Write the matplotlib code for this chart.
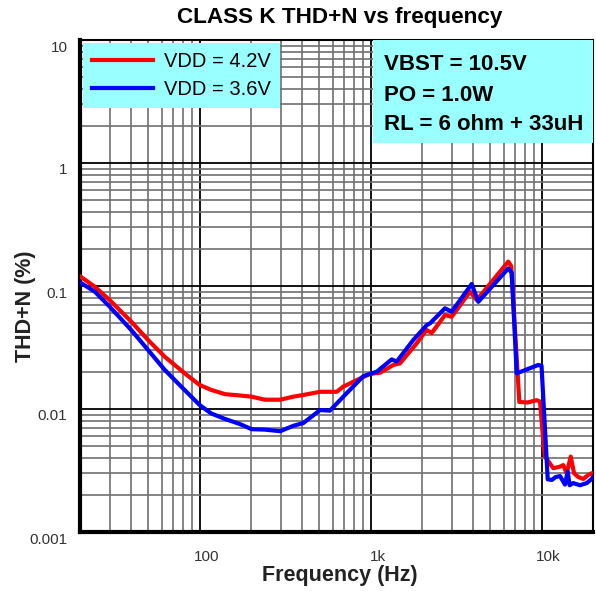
import matplotlib
matplotlib.use('Agg')
import matplotlib.pyplot as plt
import matplotlib.transforms as mtransforms
from matplotlib.patches import Rectangle

plt.rcParams['font.family'] = ['Liberation Sans', 'DejaVu Sans']

# VDD = 4.2V (red)
freq_42 = [20, 24.4, 29.8, 39.9, 50, 62.6, 71.6, 81.9, 100, 117, 141, 170, 202, 241,
           296, 354, 405, 507, 634, 693, 868, 993, 1136, 1359, 1487, 1862, 2129,
           2280, 2726, 2984, 3818, 4178, 6393, 6650, 7415, 8300, 9375, 9800, 10300,
           10480, 11720, 12830, 13400, 14030, 14820, 15500, 16400, 17550, 18700,
           19650, 20000]
thd_42 = [0.12, 0.0987, 0.0769, 0.0513, 0.0364, 0.0266, 0.0228, 0.0195, 0.0157,
          0.0143, 0.0132, 0.0129, 0.0126, 0.0119, 0.0119, 0.0126, 0.0130, 0.0138,
          0.0138, 0.0152, 0.0177, 0.0193, 0.0197, 0.0228, 0.0235, 0.0342, 0.0439,
          0.0415, 0.058, 0.0562, 0.090, 0.0769, 0.158, 0.145, 0.0114, 0.0113,
          0.0118, 0.0115, 0.0050, 0.0041, 0.0033, 0.0034, 0.0035, 0.0030, 0.0041,
          0.0030, 0.0028, 0.0027, 0.0029, 0.0030, 0.0030]

# VDD = 3.6V (blue)
freq_36 = [20, 24.4, 29.8, 39.9, 50, 62.6, 78.2, 100, 117, 141, 172, 202, 240, 296,
           354, 405, 507, 579, 693, 908, 1087, 1330, 1423, 1779, 2129, 2228, 2726,
           2984, 3904, 4269, 6393, 6694, 7160, 9575, 10000, 10870, 11500, 12100,
           12830, 13710, 14220, 14600, 15300, 16800, 18400, 19650, 20000]
thd_36 = [0.107, 0.090, 0.068, 0.0438, 0.0302, 0.0208, 0.0152, 0.0108, 0.0092,
          0.0083, 0.00755, 0.00685, 0.0068, 0.0066, 0.0073, 0.0077, 0.0098, 0.0097,
          0.0126, 0.0185, 0.0201, 0.0253, 0.0243, 0.0364, 0.048, 0.0497, 0.0659,
          0.0618, 0.1038, 0.0744, 0.139, 0.128, 0.0195, 0.0228, 0.0225, 0.00268,
          0.00265, 0.0028, 0.00285, 0.00243, 0.0031, 0.0024, 0.0025, 0.0024,
          0.0025, 0.0027, 0.0028]

xticks = [100, 1000, 10000]
xtick_labels = ['100', '1k', '10k']
yticks = [0.001, 0.01, 0.1, 1, 10]
ytick_labels = ['0.001', '0.01', '0.1', '1', '10']
conditions = ['VBST = 10.5V', 'PO = 1.0W', 'RL = 6 ohm + 33uH']

W, H = 596, 591
fig = plt.figure(figsize=(W / 100, H / 100), dpi=100)
ax = fig.add_axes([80 / W, 1 - 532 / H, 513 / W, 492 / H])

ax.plot(freq_42, thd_42, color='#ff0000', lw=3, label='VDD = 4.2V', zorder=4)
ax.plot(freq_36, thd_36, color='#0000ff', lw=3, label='VDD = 3.6V', zorder=4)

ax.set_xscale('log')
ax.set_yscale('log')
ax.set_xlim(20, 20000)
ax.set_ylim(0.001, 10)

ax.grid(which='major', color='#000000', lw=1.3, zorder=1)
ax.grid(which='minor', color='#707070', lw=1.2, zorder=1)
ax.set_axisbelow(True)

ax.set_xticks(xticks)
ax.set_xticklabels(xtick_labels)
ax.set_yticks(yticks)
ax.set_yticklabels(ytick_labels)
ax.tick_params(which='both', length=0)
ax.tick_params(axis='x', pad=13, labelsize=11, labelcolor='#333333')
ax.tick_params(axis='y', pad=9, labelsize=11, labelcolor='#333333')

# labels sit a bit off the grid lines in the original
for lab in ax.get_xticklabels():
    lab.set_transform(lab.get_transform() +
                      mtransforms.ScaledTranslation(7 / 100, 0, fig.dpi_scale_trans))
for lab in ax.get_yticklabels():
    lab.set_transform(lab.get_transform() +
                      mtransforms.ScaledTranslation(0, -6 / 100, fig.dpi_scale_trans))

for s in ['left', 'bottom']:
    ax.spines[s].set_linewidth(3)
for s in ['top', 'right']:
    ax.spines[s].set_linewidth(1.5)

leg = ax.legend(loc='upper left', fontsize=14.5, frameon=True, fancybox=False,
                facecolor='#99ffff', edgecolor='none', framealpha=1,
                handlelength=3.0, handletextpad=0.55, labelspacing=0.45,
                borderpad=0.45, borderaxespad=0.15)
leg.set_zorder(5)

ax.add_patch(Rectangle((0.5705, 0.7907), 0.4295, 0.2093, transform=ax.transAxes,
                       facecolor='#99ffff', edgecolor='none', zorder=5))
for t, yy in zip(conditions, [0.950, 0.888, 0.829]):
    ax.text(0.5926, yy, t, transform=ax.transAxes, fontsize=16, fontweight='bold',
            ha='left', va='center', zorder=6)

fig.text(340 / W, 1 - 18 / H, 'CLASS K THD+N vs frequency', ha='center', va='center',
         fontsize=16.2, fontweight='bold')
fig.text(340 / W, 1 - 576 / H, 'Frequency (Hz)', ha='center', va='center',
         fontsize=15.5, fontweight='bold', color='#222222')
fig.text(25 / W, 1 - 306 / H, 'THD+N (%)', ha='center', va='center', rotation=90,
         fontsize=15.5, fontweight='bold', color='#222222')

fig.savefig('out.png', dpi=100)
